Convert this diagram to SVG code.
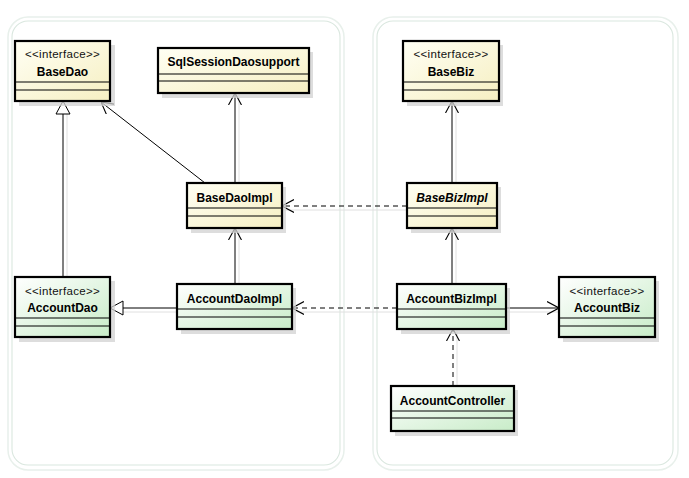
<svg xmlns="http://www.w3.org/2000/svg" width="689" height="478" viewBox="0 0 689 478">
<defs>
<linearGradient id="gy" x1="0" y1="0" x2="1" y2="1">
<stop offset="0" stop-color="#fffff4"/>
<stop offset="1" stop-color="#f6efc2"/>
</linearGradient>
<linearGradient id="gg" x1="0" y1="0" x2="1" y2="1">
<stop offset="0" stop-color="#ffffff"/>
<stop offset="1" stop-color="#c8ecc8"/>
</linearGradient>
<marker id="open" viewBox="0 0 12 14" refX="12" refY="7" markerWidth="12" markerHeight="14" markerUnits="userSpaceOnUse" orient="auto">
<path d="M0,0.5 L12,7 L0,13.5" fill="none" stroke="#000" stroke-width="1.1"/>
</marker>
<marker id="tri" viewBox="0 0 14 16" refX="13.5" refY="8" markerWidth="14" markerHeight="16" markerUnits="userSpaceOnUse" orient="auto">
<path d="M0.5,1 L13.5,8 L0.5,15 Z" fill="#fff" stroke="#000" stroke-width="1"/>
</marker>
</defs>
<style>
.pkgo{fill:none;stroke:#e8f0eb;stroke-width:1.5}
.pkgi{fill:#fff;stroke:#dae7df;stroke-width:1.1}
.sh{fill:#d2d2d2;opacity:0.75}
.by{fill:url(#gy);stroke:#000;stroke-width:2.2}
.bg{fill:url(#gg);stroke:#000;stroke-width:2.2}
.sep{stroke:#000;stroke-width:1}
.nm{font-family:"Liberation Sans",Arial,sans-serif;font-size:12px;font-weight:bold;text-anchor:middle;fill:#000}
.it{font-style:italic}
.st{font-family:"Liberation Sans",Arial,sans-serif;font-size:11.5px;letter-spacing:0.3px;text-anchor:middle;fill:#111}
.ln{fill:none;stroke:#000;stroke-width:1}
.ls{fill:none;stroke:#e0e0e0;stroke-width:1}
.dash{stroke-dasharray:5,4}
</style>
<g id="pkg-left">
<rect class="pkgo" x="8" y="17" width="336" height="453" rx="20"/>
<rect class="pkgi" x="12" y="21" width="328" height="444" rx="16"/>
</g>
<g id="pkg-right">
<rect class="pkgo" x="373" y="17" width="305" height="453" rx="20"/>
<rect class="pkgi" x="377" y="21" width="296" height="444" rx="16"/>
</g>
<g id="connectors">
<path class="ls" d="M67,277 V113"/>
<path class="ls" d="M239,183 V93"/>
<path class="ls" d="M239,284 V228"/>
<path class="ls" d="M177,312 H123"/>
<path class="ls" d="M407,210 H282"/>
<path class="ls" d="M397,312 H292"/>
<path class="ls" d="M456,284 V228"/>
<path class="ls" d="M456,183 V101"/>
<path class="ls" d="M506,312 H559"/>
<path class="ls" d="M457,386 V329"/>
<path class="ln" d="M63,277 V101" marker-end="url(#tri)"/>
<path class="ln" d="M205,183 L101,102" marker-end="url(#open)"/>
<path class="ln" d="M235,183 V93" marker-end="url(#open)"/>
<path class="ln" d="M235,284 V228" marker-end="url(#open)"/>
<path class="ln" d="M177,308 H110" marker-end="url(#tri)"/>
<path class="ln dash" d="M407,206 H282" marker-end="url(#open)"/>
<path class="ln dash" d="M397,308 H292" marker-end="url(#open)"/>
<path class="ln" d="M452,284 V228" marker-end="url(#open)"/>
<path class="ln" d="M452,183 V101" marker-end="url(#open)"/>
<path class="ln" d="M506,308 H559" marker-end="url(#open)"/>
<path class="ln dash" d="M453,386 V329" marker-end="url(#open)"/>
</g>
<g id="BaseDao">
<rect class="sh" x="19" y="45" width="96" height="61"/>
<rect class="by" x="15" y="41" width="95" height="60"/>
<line class="sep" x1="15" y1="82" x2="110" y2="82"/>
<line class="sep" x1="15" y1="90" x2="110" y2="90"/>
<text class="st" x="62.5" y="58">&lt;&lt;interface&gt;&gt;</text>
<text class="nm" x="62.5" y="76">BaseDao</text>
</g>
<g id="SqlSessionDaosupport">
<rect class="sh" x="162" y="52" width="151" height="46"/>
<rect class="by" x="158" y="48" width="151" height="45"/>
<line class="sep" x1="158" y1="74" x2="309" y2="74"/>
<line class="sep" x1="158" y1="81" x2="309" y2="81"/>
<text class="nm" x="233.5" y="66">SqlSessionDaosupport</text>
</g>
<g id="BaseDaoImpl">
<rect class="sh" x="191" y="187" width="95" height="46"/>
<rect class="by" x="187" y="183" width="95" height="45"/>
<line class="sep" x1="187" y1="208" x2="282" y2="208"/>
<line class="sep" x1="187" y1="216" x2="282" y2="216"/>
<text class="nm" x="234.5" y="202">BaseDaoImpl</text>
</g>
<g id="BaseBiz">
<rect class="sh" x="407" y="45" width="96" height="61"/>
<rect class="by" x="403" y="41" width="96" height="60"/>
<line class="sep" x1="403" y1="82" x2="499" y2="82"/>
<line class="sep" x1="403" y1="90" x2="499" y2="90"/>
<text class="st" x="451" y="58">&lt;&lt;interface&gt;&gt;</text>
<text class="nm" x="451" y="76">BaseBiz</text>
</g>
<g id="BaseBizImpl">
<rect class="sh" x="411" y="187" width="90" height="46"/>
<rect class="by" x="407" y="183" width="90" height="45"/>
<line class="sep" x1="407" y1="208" x2="497" y2="208"/>
<line class="sep" x1="407" y1="216" x2="497" y2="216"/>
<text class="nm it" x="452" y="202">BaseBizImpl</text>
</g>
<g id="AccountDao">
<rect class="sh" x="19" y="281" width="96" height="61"/>
<rect class="bg" x="15" y="277" width="95" height="60"/>
<line class="sep" x1="15" y1="318" x2="110" y2="318"/>
<line class="sep" x1="15" y1="326" x2="110" y2="326"/>
<text class="st" x="62.5" y="295">&lt;&lt;interface&gt;&gt;</text>
<text class="nm" x="62.5" y="312">AccountDao</text>
</g>
<g id="AccountDaoImpl">
<rect class="sh" x="181" y="288" width="115" height="46"/>
<rect class="bg" x="177" y="284" width="115" height="45"/>
<line class="sep" x1="177" y1="309" x2="292" y2="309"/>
<line class="sep" x1="177" y1="317" x2="292" y2="317"/>
<text class="nm" x="234.5" y="303">AccountDaoImpl</text>
</g>
<g id="AccountBizImpl">
<rect class="sh" x="401" y="288" width="109" height="46"/>
<rect class="bg" x="397" y="284" width="109" height="45"/>
<line class="sep" x1="397" y1="309" x2="506" y2="309"/>
<line class="sep" x1="397" y1="317" x2="506" y2="317"/>
<text class="nm" x="451.5" y="303">AccountBizImpl</text>
</g>
<g id="AccountBiz">
<rect class="sh" x="563" y="281" width="96" height="61"/>
<rect class="bg" x="559" y="277" width="96" height="60"/>
<line class="sep" x1="559" y1="318" x2="655" y2="318"/>
<line class="sep" x1="559" y1="326" x2="655" y2="326"/>
<text class="st" x="607" y="295">&lt;&lt;interface&gt;&gt;</text>
<text class="nm" x="607" y="312">AccountBiz</text>
</g>
<g id="AccountController">
<rect class="sh" x="395" y="390" width="123" height="46"/>
<rect class="bg" x="391" y="386" width="123" height="45"/>
<line class="sep" x1="391" y1="411" x2="514" y2="411"/>
<line class="sep" x1="391" y1="418" x2="514" y2="418"/>
<text class="nm" x="452.5" y="405">AccountController</text>
</g>
</svg>
